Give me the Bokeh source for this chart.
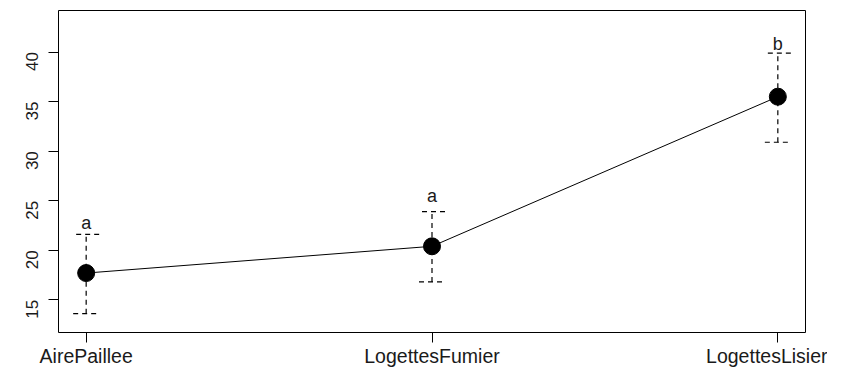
import math
from bokeh.plotting import figure
from bokeh.models import ColumnDataSource, FixedTicker, Whisker, TeeHead
from bokeh.core.properties import value
from bokeh.embed import file_html
from bokeh.resources import INLINE

categories = ["AirePaillee", "LogettesFumier", "LogettesLisier"]
x_pos = [1, 2, 3]
means = [17.7, 20.4, 35.5]
upper = [21.6, 23.9, 39.9]
lower = [13.6, 16.8, 30.9]
letters = ["a", "a", "b"]
letter_y = [22.75, 25.5, 40.8]
y_ticks = [15, 20, 25, 30, 35, 40]

src = ColumnDataSource(data=dict(x=x_pos, mean=means, upper=upper, lower=lower,
                                 letter=letters, ly=letter_y))

FONT = "Liberation Sans"

p = figure(width=827, height=369, x_range=(0.92, 3.08), y_range=(11.7, 44.2),
           output_backend="svg", toolbar_location=None,
           min_border_left=58, min_border_right=22, min_border_top=10, min_border_bottom=36)
p.grid.visible = False
p.outline_line_color = "black"
p.outline_line_width = 1
p.background_fill_color = "white"
p.border_fill_color = "white"

# y axis
p.yaxis.ticker = FixedTicker(ticks=y_ticks)
p.yaxis.axis_line_color = None
p.yaxis.major_tick_out = 10
p.yaxis.major_tick_in = 0
p.yaxis.minor_tick_line_color = None
p.yaxis.major_tick_line_color = "black"
p.yaxis.major_label_orientation = math.pi / 2
p.yaxis.major_label_standoff = 16
p.yaxis.major_label_text_font = FONT
p.yaxis.major_label_text_font_size = "17px"
p.yaxis.major_label_text_color = "#1a1a1a"

# x axis
p.xaxis.ticker = FixedTicker(ticks=x_pos)
p.xaxis.major_label_overrides = {x: c for x, c in zip(x_pos, categories)}
p.xaxis.axis_line_color = None
p.xaxis.major_tick_out = 10
p.xaxis.major_tick_in = 0
p.xaxis.minor_tick_line_color = None
p.xaxis.major_tick_line_color = "black"
p.xaxis.major_label_standoff = 2
p.xaxis.major_label_text_font = FONT
p.xaxis.major_label_text_font_size = "19.5px"
p.xaxis.major_label_text_color = "#1a1a1a"

# error bars
w = Whisker(source=src, base="x", upper="upper", lower="lower",
            line_color="black", line_width=1.2, line_dash="5 4",
            upper_head=TeeHead(size=26, line_color="black", line_width=1.2, line_dash="5 4"),
            lower_head=TeeHead(size=26, line_color="black", line_width=1.2, line_dash="5 4"))
p.add_layout(w)

p.line(x="x", y="mean", source=src, line_color="black", line_width=1)
p.scatter(x="x", y="mean", source=src, size=17, fill_color="black", line_color="black")

p.text(x="x", y="ly", text="letter", source=src, text_align="center",
       text_baseline="alphabetic", text_font=value(FONT), text_font_size="18px",
       text_color="#1a1a1a")

open("out.html", "w").write(file_html(p, INLINE))
